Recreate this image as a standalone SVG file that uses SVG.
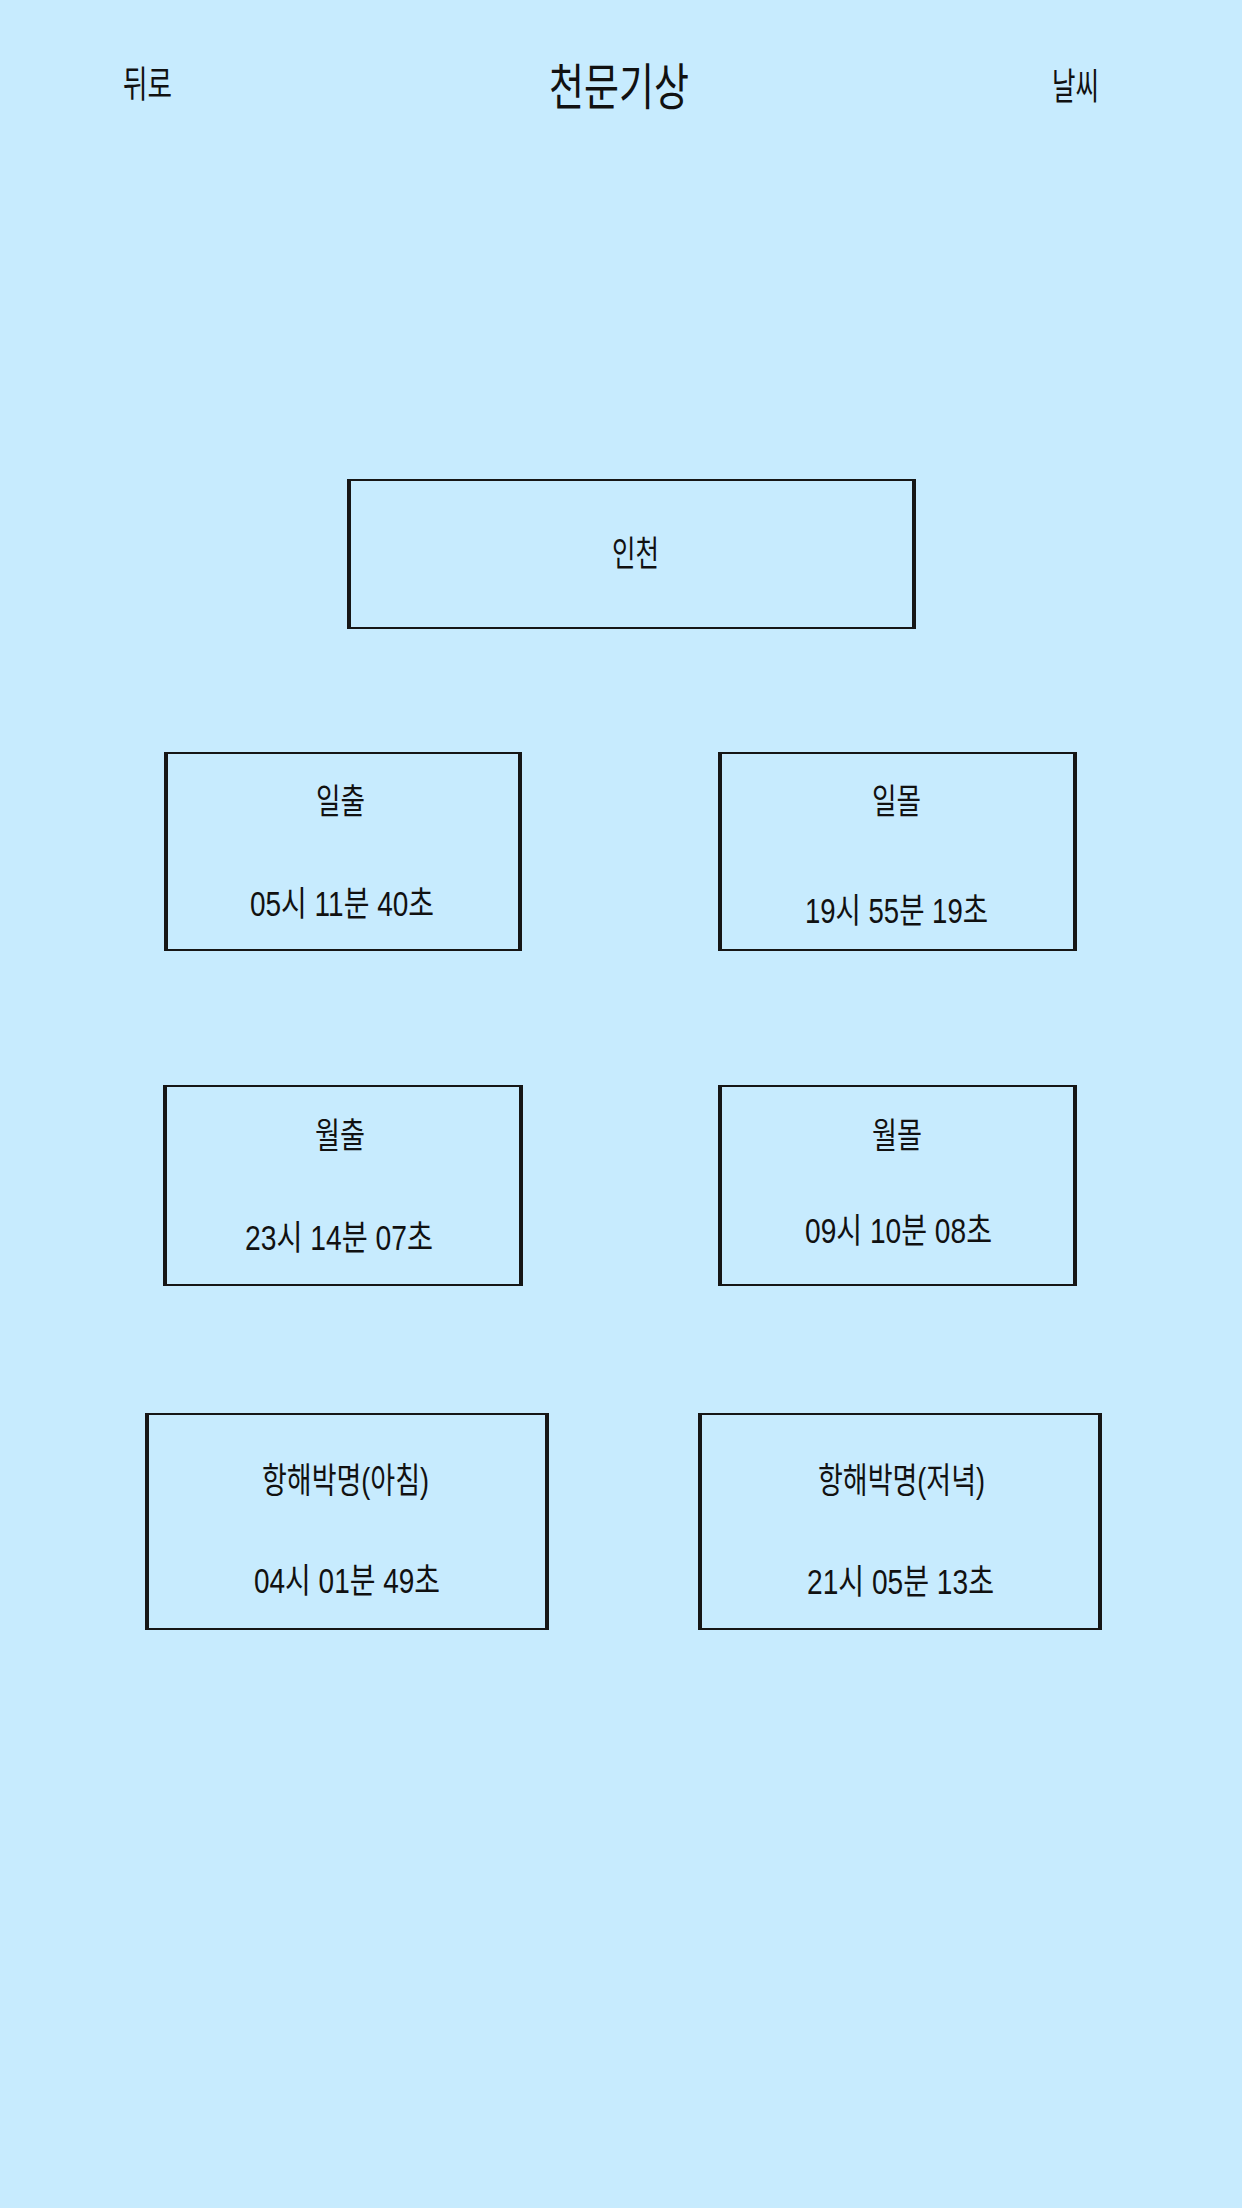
<svg xmlns="http://www.w3.org/2000/svg" width="1242" height="2208" viewBox="0 0 1242 2208">
<style>
.bg{fill:#C7EBFE}
.box{fill:none;stroke:#161616;stroke-width:2}
.side{stroke:#161616;stroke-width:4}
.t{font-family:"Liberation Sans","Noto Sans CJK KR",sans-serif;fill:#111;text-anchor:middle}
.h{font-size:37px}
.title{font-size:50px}
.lbl{font-size:35px}
</style>
<rect class="bg" x="0" y="0" width="1242" height="2208"/>
<g id="header">
<text class="t h" x="147.5" y="98" textLength="49" lengthAdjust="spacingAndGlyphs">뒤로</text>
<text class="t title" x="619" y="105" textLength="140" lengthAdjust="spacingAndGlyphs">천문기상</text>
<text class="t h" x="1075.5" y="100" textLength="47" lengthAdjust="spacingAndGlyphs">날씨</text>
</g>
<g id="connectors"/>
<g id="node-incheon">
<rect class="box" x="348" y="480" width="567" height="148"/>
<line class="side" x1="349" y1="479" x2="349" y2="629"/>
<line class="side" x1="914" y1="479" x2="914" y2="629"/>
<text class="t lbl" x="635.5" y="566" textLength="47" lengthAdjust="spacingAndGlyphs">인천</text>
</g>
<g id="node-sunrise">
<rect class="box" x="165" y="753" width="356" height="197"/>
<line class="side" x1="166" y1="752" x2="166" y2="951"/>
<line class="side" x1="520" y1="752" x2="520" y2="951"/>
<text class="t lbl" x="340.5" y="814" textLength="49" lengthAdjust="spacingAndGlyphs">일출</text>
<text class="t lbl" x="342" y="916" textLength="184" lengthAdjust="spacingAndGlyphs">05시 11분 40초</text>
</g>
<g id="node-sunset">
<rect class="box" x="719" y="753" width="357" height="197"/>
<line class="side" x1="720" y1="752" x2="720" y2="951"/>
<line class="side" x1="1075" y1="752" x2="1075" y2="951"/>
<text class="t lbl" x="896.5" y="814" textLength="49" lengthAdjust="spacingAndGlyphs">일몰</text>
<text class="t lbl" x="896.5" y="923" textLength="183" lengthAdjust="spacingAndGlyphs">19시 55분 19초</text>
</g>
<g id="node-moonrise">
<rect class="box" x="164" y="1086" width="358" height="199"/>
<line class="side" x1="165" y1="1085" x2="165" y2="1286"/>
<line class="side" x1="521" y1="1085" x2="521" y2="1286"/>
<text class="t lbl" x="340" y="1148" textLength="50" lengthAdjust="spacingAndGlyphs">월출</text>
<text class="t lbl" x="339" y="1250" textLength="188" lengthAdjust="spacingAndGlyphs">23시 14분 07초</text>
</g>
<g id="node-moonset">
<rect class="box" x="719" y="1086" width="357" height="199"/>
<line class="side" x1="720" y1="1085" x2="720" y2="1286"/>
<line class="side" x1="1075" y1="1085" x2="1075" y2="1286"/>
<text class="t lbl" x="897" y="1148" textLength="50" lengthAdjust="spacingAndGlyphs">월몰</text>
<text class="t lbl" x="898.5" y="1243" textLength="187" lengthAdjust="spacingAndGlyphs">09시 10분 08초</text>
</g>
<g id="node-nautical-morning">
<rect class="box" x="146" y="1414" width="402" height="215"/>
<line class="side" x1="147" y1="1413" x2="147" y2="1630"/>
<line class="side" x1="547" y1="1413" x2="547" y2="1630"/>
<text class="t lbl" x="345.5" y="1493" textLength="167" lengthAdjust="spacingAndGlyphs">항해박명(아침)</text>
<text class="t lbl" x="347" y="1593" textLength="186" lengthAdjust="spacingAndGlyphs">04시 01분 49초</text>
</g>
<g id="node-nautical-evening">
<rect class="box" x="699" y="1414" width="402" height="215"/>
<line class="side" x1="700" y1="1413" x2="700" y2="1630"/>
<line class="side" x1="1100" y1="1413" x2="1100" y2="1630"/>
<text class="t lbl" x="901.5" y="1493" textLength="167" lengthAdjust="spacingAndGlyphs">항해박명(저녁)</text>
<text class="t lbl" x="900.5" y="1594" textLength="187" lengthAdjust="spacingAndGlyphs">21시 05분 13초</text>
</g>
</svg>
